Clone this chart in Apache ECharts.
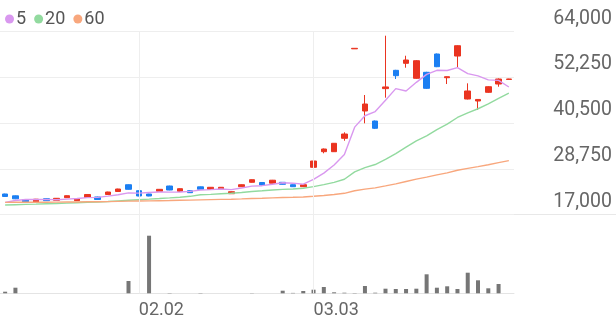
<!DOCTYPE html>
<html><head><meta charset="utf-8">
<script src="https://cdn.jsdelivr.net/npm/echarts@6/dist/echarts.min.js"></script>
<style>html,body{margin:0;padding:0;background:#fff}#c{width:616px;height:321px}</style>
</head><body><div id="c"></div>
<script>
const dates = ['01.14','01.15','01.16','01.19','01.20','01.21','01.22','01.23','01.26','01.27','01.28','01.29','01.30',
  '02.02','02.03','02.04','02.05','02.06','02.09','02.10','02.11','02.12','02.13','02.19','02.20','02.23','02.24','02.25','02.26','02.27',
  '03.03','03.04','03.05','03.06','03.09','03.10','03.11','03.12','03.13','03.16','03.17','03.18','03.19','03.20','03.23','03.24','03.25','03.26','03.27','03.30'];
const opens  = [22320,21850,20850,20210,21110,20700,21370,20600,21420,21550,22190,22960,24700,23160,22320,23010,24370,23010,23160,24160,
  23520,23520,22390,24190,25320,25270,25090,25320,24700,24190,29170,33180,33180,36620,59600,43630,41060,49380,54080,55880,
  52030,53570,58270,52180,57750,46710,46200,48430,50560,51750];
const closes = [21680,21080,20340,20980,20600,21210,21880,21110,22190,20900,22830,23600,23520,21800,21800,23520,23340,23680,22650,23520,
  24040,24040,22910,24700,25990,24630,25860,24810,24190,24700,30790,33870,35340,37720,59730,45430,39190,49810,52700,56730,
  56550,49460,55010,52440,60400,48770,46600,49870,51850,51850];
const lows   = [21600,21000,20280,20150,20540,20640,21300,20540,21350,20840,22120,22890,23450,21740,21740,22950,23280,22830,22590,23460,
  23460,23460,22330,24130,25250,24570,25030,24750,24130,24130,29100,32770,33120,36000,59600,40470,39000,47050,51850,54750,
  51900,49300,54900,50560,54850,46600,43890,48300,49870,51700];
const highs  = [22400,21930,20920,21050,21180,21280,21950,21180,22260,21620,22900,23670,24770,23230,22390,23590,24440,23750,23230,24230,
  24110,24110,22980,24770,26060,25340,25930,25390,24770,24770,30860,34000,35410,38160,59730,47740,41200,62970,54200,57830,
  56700,53700,58400,52500,60500,50740,46700,50000,52000,51900];
const volumes = [16000,56000,0,0,0,0,0,0,0,0,0,0,123000,0,576000,0,3000,0,0,3000,
  0,0,0,0,2000,0,0,26000,4000,23000,36000,63000,10000,6000,3000,73000,6000,46000,43000,43000,
  46000,190000,56000,70000,43000,206000,130000,50000,93000,0];
const ma5  = [20180,20650,20900,20900,20936,20842,21002,21156,21398,21458,21782,22126,22608,22530,22710,22848,22796,22828,22998,23342,
  23446,23586,23432,23842,24336,24454,24818,25198,25096,24838,26070,27672,29778,32484,39490,42418,43482,46376,49372,48772,
  50996,53050,54090,54038,54772,53216,52644,51616,51498,49788];
const ma20 = [19490,19570,19650,19720,19800,19880,19980,20080,20180,20270,20400,20550,20700,20850,20990,21150,21320,21500,21720,22112,
  22230,22378,22506,22692,22962,23133,23332,23517,23617,23807,24205,24718,25309,26105,28002,29097,29890,31196,32699,34359,
  35985,37256,38861,40248,41968,43175,44212,45465,46848,48206];
const ma60 = [20176,20191,20194,20208,20216,20233,20262,20278,20312,20325,20369,20427,20483,20510,20538,20594,20647,20706,20748,20804,
  20869,20934,20980,21055,21153,21227,21323,21400,21468,21543,21721,21949,22203,22495,23155,23576,23894,24388,24931,25540,
  26147,26635,27216,27755,28425,28902,29343,29839,30367,30895];
const priceTicks = [17000, 28750, 40500, 52250, 64000];
const shownDates = ['02.02','03.03'];

const UP = '#ea3420', DOWN = '#1b7ff2';
const candles = dates.map((d,i)=>[opens[i],closes[i],lows[i],highs[i]]);
const chart = echarts.init(document.getElementById('c'), null, {renderer:'canvas'});
const vline = {
  silent:true, symbol:['none','none'], label:{show:false},
  lineStyle:{color:'#eeeeee', width:1, type:'solid'},
  data: shownDates.map(d=>({xAxis:d}))
};
const maLine = (name, data, color) => ({
  name, type:'line', data, xAxisIndex:0, yAxisIndex:0, symbol:'none', smooth:false,
  lineStyle:{color, width:1.4}, itemStyle:{color}, z:3
});
chart.setOption({
  animation:false,
  backgroundColor:'#fff',
  textStyle:{fontFamily:'Roboto'},
  legend:{
    left:0, top:5, icon:'circle', itemWidth:9, itemHeight:9, itemGap:8,
    textStyle:{fontSize:18, color:'#555', fontFamily:'Roboto', padding:[0,0,0,-3]},
    data:['5','20','60']
  },
  graphic:[{type:'line', silent:true, z:0, shape:{x1:0,y1:214.5,x2:616,y2:214.5}, style:{stroke:'#e8e8e8', lineWidth:1}}],
  grid:[
    {left:0, width:514, top:31.7, bottom:106.3},
    {left:0, width:514, top:214.7, bottom:27.7}
  ],
  xAxis:[
    {type:'category', gridIndex:0, data:dates, boundaryGap:true,
     axisLine:{show:false}, axisTick:{show:false}, axisLabel:{show:false}, splitLine:{show:false}},
    {type:'category', gridIndex:1, data:dates, boundaryGap:true,
     axisLine:{show:true, lineStyle:{color:'#e4e4e4'}}, axisTick:{show:false}, splitLine:{show:false},
     axisLabel:{show:true, interval:(i,v)=>shownDates.indexOf(v)>=0, align:'left', margin:8,
       fontSize:18, color:'#666', fontFamily:'Roboto',
       formatter:(v)=>v}}
  ],
  yAxis:[
    {type:'value', gridIndex:0, position:'right', min:priceTicks[0], max:priceTicks[priceTicks.length-1],
     interval:priceTicks[1]-priceTicks[0],
     axisLine:{show:false}, axisTick:{show:false},
     splitLine:{show:true, lineStyle:{color:'#eeeeee', width:1}},
     axisLabel:{show:true, align:'right', margin:98, verticalAlign:'bottom', lineHeight:18, padding:[0,0,4,0],
       fontSize:19.5, color:'#666', fontFamily:'Roboto',
       formatter:(v)=>Number(v).toLocaleString('en-US')}},
    {type:'value', gridIndex:1, min:0, max:786000, show:false, splitLine:{show:false}}
  ],
  series:[
    {name:'price', type:'candlestick', xAxisIndex:0, yAxisIndex:0, data:candles, barWidth:6,
     itemStyle:{color:UP, color0:DOWN, borderColor:UP, borderColor0:DOWN, borderWidth:1},
     markLine:vline, z:2},
    maLine('5', ma5, '#d998ef'),
    maLine('20', ma20, '#92da9f'),
    maLine('60', ma60, '#f8a77d'),
    {name:'vol', type:'bar', xAxisIndex:1, yAxisIndex:1, data:volumes, barWidth:4,
     itemStyle:{color:'#767676'}, markLine:vline}
  ]
});
</script></body></html>
